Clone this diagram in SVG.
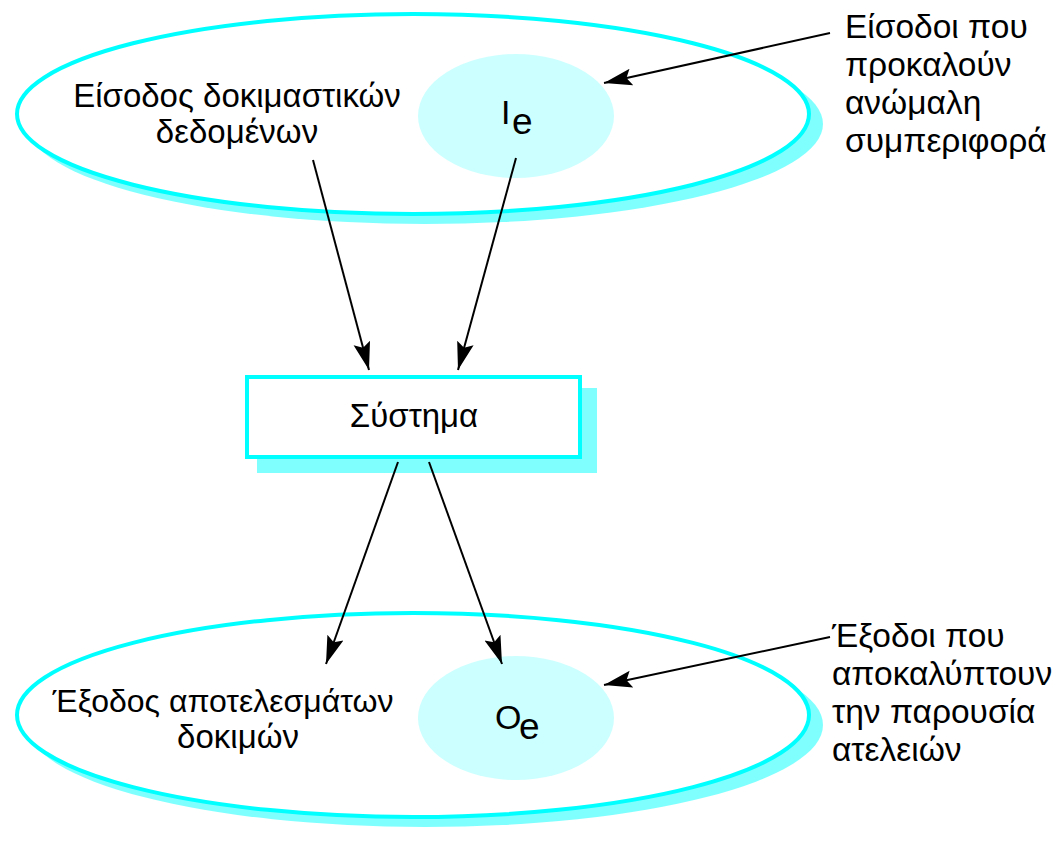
<svg xmlns="http://www.w3.org/2000/svg" width="1062" height="841" viewBox="0 0 1062 841">
<style>
.shadow{fill:#80FFFF;stroke:none}
.outer{fill:#FFFFFF;stroke:#00FFFF;stroke-width:4}
.inner{fill:#CCFFFF;stroke:none}
.t{font-family:"Liberation Sans",Arial,sans-serif;font-size:33px;fill:#000}
.big{font-size:34px}
.sub{font-size:37px}
.c{stroke:#000;stroke-width:2;fill:none;marker-end:url(#ah)}
</style>
<defs>
<marker id="ah" markerUnits="userSpaceOnUse" markerWidth="30" markerHeight="18" viewBox="0 -9 30 18" refX="28" refY="0" orient="auto">
<path d="M0,-8.5 L28,0 L0,8.5 L5,0 Z" fill="#000"/>
</marker>
</defs>
<rect width="1062" height="841" fill="#FFFFFF"/>
<g id="input-set">
<ellipse class="shadow" cx="425" cy="124" rx="398" ry="100"/>
<ellipse class="outer" cx="413" cy="114" rx="396" ry="100"/>
<text class="t" x="237" y="107" text-anchor="middle">Είσοδος δοκιμαστικών</text>
<text class="t" x="237" y="143" text-anchor="middle">δεδομένων</text>
</g>
<g id="Ie">
<ellipse class="inner" cx="516" cy="116" rx="98" ry="62"/>
<text class="t big" x="501" y="124">I</text>
<text class="t sub" x="512" y="134">e</text>
</g>
<g id="input-note">
<text class="t" x="845" y="38" style="font-size:33.5px">Είσοδοι που</text>
<text class="t" x="845" y="76" style="font-size:33.5px">προκαλούν</text>
<text class="t" x="845" y="114" style="font-size:33.5px">ανώμαλη</text>
<text class="t" x="845" y="152" style="font-size:33.5px">συμπεριφορά</text>
</g>
<g id="system">
<rect class="shadow" x="257" y="388" width="340" height="85"/>
<rect class="outer" x="247" y="377" width="333" height="80"/>
<text class="t" x="414" y="427" text-anchor="middle">Σύστημα</text>
</g>
<g id="output-set">
<ellipse class="shadow" cx="425" cy="725" rx="398" ry="102"/>
<ellipse class="outer" cx="413" cy="715" rx="396" ry="102"/>
<text class="t" x="223" y="712" text-anchor="middle" style="font-size:32px">Έξοδος αποτελεσμάτων</text>
<text class="t" x="238" y="748" text-anchor="middle">δοκιμών</text>
</g>
<g id="Oe">
<ellipse class="inner" cx="516" cy="718" rx="98" ry="62"/>
<text class="t big" x="495" y="729">O</text>
<text class="t sub" x="519" y="739">e</text>
</g>
<g id="output-note">
<text class="t" x="832" y="647" style="font-size:33.5px">Έξοδοι που</text>
<text class="t" x="832" y="685" style="font-size:33.5px">αποκαλύπτουν</text>
<text class="t" x="832" y="723" style="font-size:33.5px">την παρουσία</text>
<text class="t" x="832" y="761" style="font-size:33.5px">ατελειών</text>
</g>
<g id="connectors">
<line class="c" x1="313" y1="160" x2="369" y2="370"/>
<line class="c" x1="516" y1="158" x2="458" y2="370"/>
<line class="c" x1="398" y1="462" x2="326" y2="664"/>
<line class="c" x1="429" y1="462" x2="502" y2="664"/>
<line class="c" x1="830" y1="33" x2="604" y2="83"/>
<line class="c" x1="830" y1="637" x2="604" y2="685"/>
</g>
</svg>
